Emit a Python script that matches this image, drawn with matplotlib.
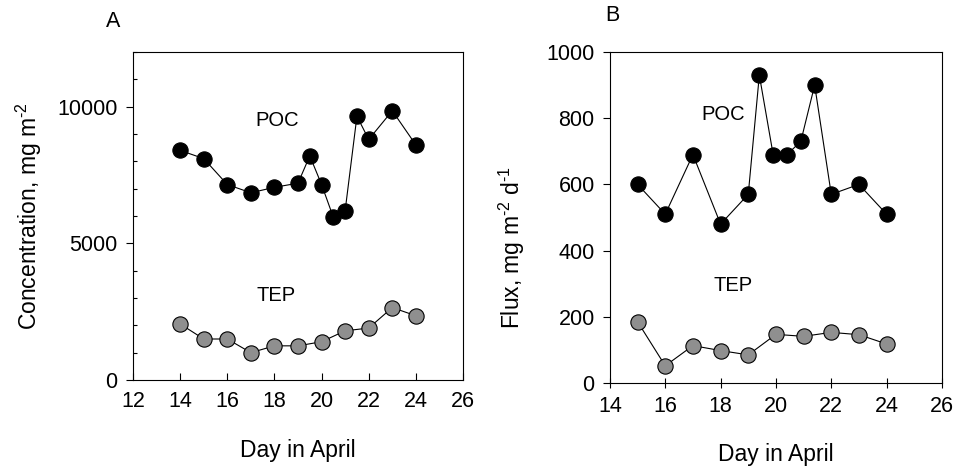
import matplotlib
matplotlib.use('Agg')
from matplotlib import pyplot as plt
from matplotlib.ticker import MultipleLocator

plt.rcParams['font.family'] = ['Liberation Sans', 'DejaVu Sans']
plt.rcParams['mathtext.fontset'] = 'custom'
plt.rcParams['mathtext.rm'] = 'Liberation Sans'

# Panel A - concentration (mg m-2)
days_a_poc = [14, 15, 16, 17, 18, 19, 19.5, 20, 20.5, 21, 21.5, 22, 23, 24]
poc_a = [8400, 8100, 7150, 6850, 7050, 7200, 8200, 7150, 5950, 6200, 9650, 8800, 9850, 8600]
days_a_tep = [14, 15, 16, 17, 18, 19, 20, 21, 22, 23, 24]
tep_a = [2050, 1500, 1500, 1000, 1250, 1250, 1400, 1800, 1900, 2650, 2350]

# Panel B - flux (mg m-2 d-1)
days_b_poc = [15, 16, 17, 18, 19, 19.4, 19.9, 20.4, 20.9, 21.4, 22, 23, 24]
poc_b = [600, 510, 690, 480, 570, 930, 690, 690, 730, 900, 570, 600, 510]
days_b_tep = [15, 16, 17, 18, 19, 20, 21, 22, 23, 24]
tep_b = [185, 52, 113, 98, 85, 147, 141, 153, 146, 118]

FS = 15.5
LFS = 16.5
TEP_GREY = '#8f8f8f'


def draw_series(ax, x, y, face):
    ax.plot(x, y, color='black', lw=0.8, marker='o', markersize=11,
            markerfacecolor=face, markeredgecolor='black', markeredgewidth=0.8)


fig = plt.figure(figsize=(9.59, 4.71), dpi=100)

# ---- A ----
ax1 = fig.add_axes([0.1387, 0.1932, 0.3441, 0.6964])
draw_series(ax1, days_a_poc, poc_a, 'black')
draw_series(ax1, days_a_tep, tep_a, TEP_GREY)
ax1.set_xlim(12, 26)
ax1.set_ylim(0, 12000)
ax1.set_xticks(range(12, 27, 2))
ax1.yaxis.set_major_locator(MultipleLocator(5000))
ax1.yaxis.set_minor_locator(MultipleLocator(1000))
ax1.tick_params(axis='x', direction='in', length=5, width=0.8, labelsize=FS, pad=8)
ax1.tick_params(axis='y', which='major', direction='out', length=5, width=0.8, labelsize=FS, pad=6)
ax1.tick_params(axis='y', which='minor', direction='in', length=3, width=0.8)
ax1.text(18.1, 9500, 'POC', fontsize=FS - 1, ha='center', va='center')
ax1.text(18.05, 3100, 'TEP', fontsize=FS - 1, ha='center', va='center')
ax1.set_ylabel(r'Concentration, mg m$^{\text{-2}}$', fontsize=LFS)
ax1.yaxis.set_label_coords(-0.27, 0.5)
ax1.set_xlabel('Day in April', fontsize=LFS)
ax1.xaxis.set_label_coords(0.5, -0.18)
fig.text(0.1178, 0.955, 'A', fontsize=FS, ha='center', va='center')

# ---- B ----
ax2 = fig.add_axes([0.636, 0.1868, 0.3462, 0.7028])
draw_series(ax2, days_b_poc, poc_b, 'black')
draw_series(ax2, days_b_tep, tep_b, TEP_GREY)
ax2.set_xlim(14, 26)
ax2.set_ylim(0, 1000)
ax2.set_xticks(range(14, 27, 2))
ax2.set_yticks(range(0, 1001, 200))
ax2.tick_params(axis='x', direction='inout', length=7, width=0.8, labelsize=FS, pad=6)
ax2.tick_params(axis='y', direction='out', length=5, width=0.8, labelsize=FS, pad=6)
ax2.text(18.1, 810, 'POC', fontsize=FS - 1, ha='center', va='center')
ax2.text(18.45, 295, 'TEP', fontsize=FS - 1, ha='center', va='center')
ax2.set_ylabel(r'Flux, mg m$^{\text{-2}}$ d$^{\text{-1}}$', fontsize=LFS)
ax2.yaxis.set_label_coords(-0.25, 0.41)
ax2.set_xlabel('Day in April', fontsize=LFS)
ax2.xaxis.set_label_coords(0.5, -0.18)
fig.text(0.639, 0.968, 'B', fontsize=FS, ha='center', va='center')

for ax in (ax1, ax2):
    for sp in ax.spines.values():
        sp.set_linewidth(0.8)

fig.savefig('out.png', dpi=100)
